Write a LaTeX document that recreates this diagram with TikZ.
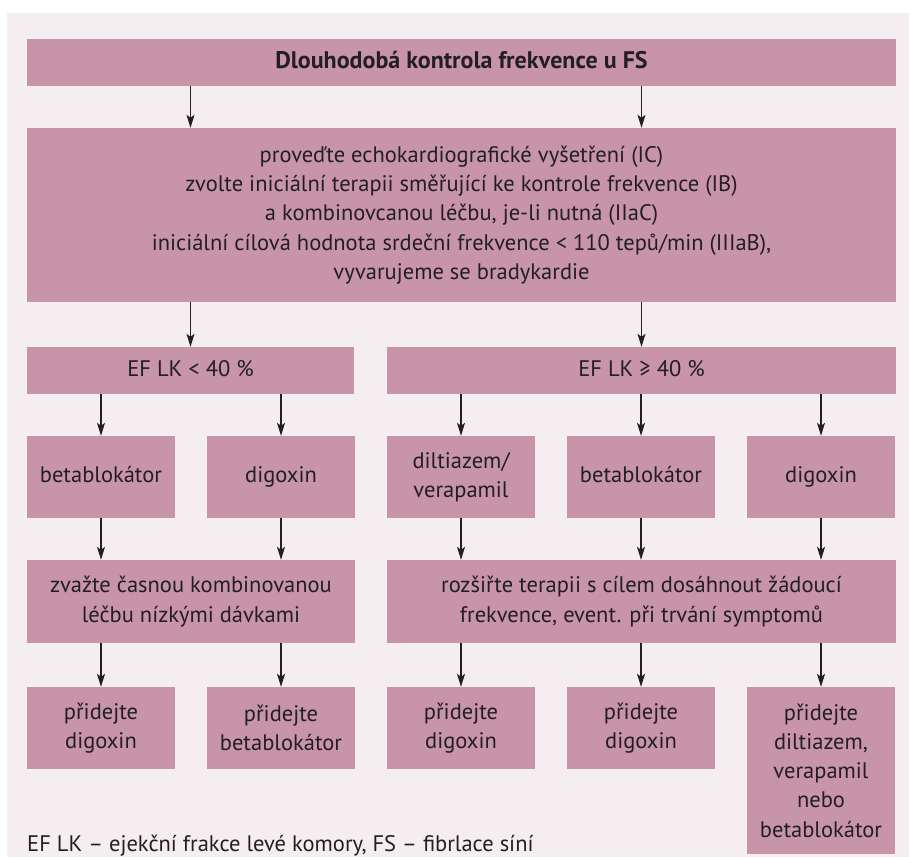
\documentclass[tikz,border=0pt]{standalone}
\usepackage{fontspec}
\setmainfont{PT Sans}
\usetikzlibrary{arrows.meta}
\definecolor{boxpink}{HTML}{C794AA}
\definecolor{bgpink}{HTML}{F5EEF1}
\definecolor{inkgrey}{HTML}{231F20}
\tikzset{
  box/.style={fill=boxpink, text=inkgrey, inner sep=0pt, align=center,
    font=\fontsize{22.5}{29.3}\selectfont},
  arr/.style={-{Stealth[length=13pt,width=8pt,inset=3pt]}, line width=1.3pt, inkgrey}
}
\begin{document}
\begin{tikzpicture}[x=1pt,y=1pt]
\useasboundingbox (0,0) rectangle (909,-857);
\fill[bgpink] (7,-13) rectangle (909,-857);

\node[box, minimum width=869, minimum height=47, font=\fontsize{24}{29.3}\selectfont\bfseries] (title) at (461.5,-62.5) {Dlouhodobá kontrola frekvence u FS\strut};
\node[box, minimum width=869, minimum height=174] (info) at (461.5,-215) {proveďte echokardiografické vyšetření (IC)\\
zvolte iniciální terapii směřující ke kontrole frekvence (IB)\\
a kombinovcanou léčbu, je-li nutná (IIaC)\\
iniciální cílová hodnota srdeční frekvence < 110 tepů/min (IIIaB),\\
vyvarujeme se bradykardie};

\node[box, minimum width=327, minimum height=47] (efl) at (190.5,-370.5) {EF LK < 40 \%\strut};
\node[box, minimum width=509, minimum height=47] (efr) at (641.5,-370.5) {EF LK ≥ 40 \%\strut};

\node[box, minimum width=148, minimum height=82] (betal) at (101,-477) {betablokátor\strut};
\node[box, minimum width=148, minimum height=82] (digl) at (281,-477) {digoxin\strut};
\node[box, minimum width=148, minimum height=82] (dilt) at (461,-477) {diltiazem/\\verapamil};
\node[box, minimum width=148, minimum height=82] (betar) at (641,-477) {betablokátor\strut};
\node[box, minimum width=148, minimum height=82] (digr) at (821,-477) {digoxin\strut};

\node[box, minimum width=328, minimum height=83] (kombi) at (191,-601.5) {zvažte časnou kombinovanou\\léčbu nízkými dávkami};
\node[box, minimum width=509, minimum height=83] (rozsir) at (641.5,-601.5) {rozšiřte terapii s cílem dosáhnout žádoucí\\frekvence, event. při trvání symptomů};

\node[box, minimum width=148, minimum height=82] (adddig1) at (101,-728) {přidejte\\digoxin};
\node[box, minimum width=148, minimum height=82] (addbeta) at (281,-728) {přidejte\\betablokátor};
\node[box, minimum width=148, minimum height=82] (adddig2) at (461,-728) {přidejte\\digoxin};
\node[box, minimum width=148, minimum height=82] (adddig3) at (641,-728) {přidejte\\digoxin};
\node[box, minimum width=148, minimum height=167] (addmix) at (821,-770.5) {přidejte\\diltiazem,\\verapamil\\nebo\\betablokátor};

\node[anchor=base west, inner sep=0pt, text=inkgrey, font=\fontsize{22.5}{29.3}\selectfont] (note) at (27,-851) {EF LK – ejekční frakce levé komory, FS – fibrlace síní};

% arrows
\draw[arr] (title.south -| efl) -- (info.north -| efl);
\draw[arr] (title.south -| efr) -- (info.north -| efr);
\draw[arr] (info.south -| efl) -- (efl.north);
\draw[arr] (info.south -| efr) -- (efr.north);
\foreach \n in {betal,digl} \draw[arr] (efl.south -| \n) -- (\n.north);
\foreach \n in {dilt,betar,digr} \draw[arr] (efr.south -| \n) -- (\n.north);
\foreach \n in {betal,digl} \draw[arr] (\n.south) -- (kombi.north -| \n);
\foreach \n in {dilt,betar,digr} \draw[arr] (\n.south) -- (rozsir.north -| \n);
\foreach \n in {adddig1,addbeta} \draw[arr] (kombi.south -| \n) -- (\n.north);
\foreach \n in {adddig2,adddig3,addmix} \draw[arr] (rozsir.south -| \n) -- (\n.north);
\end{tikzpicture}
\end{document}
